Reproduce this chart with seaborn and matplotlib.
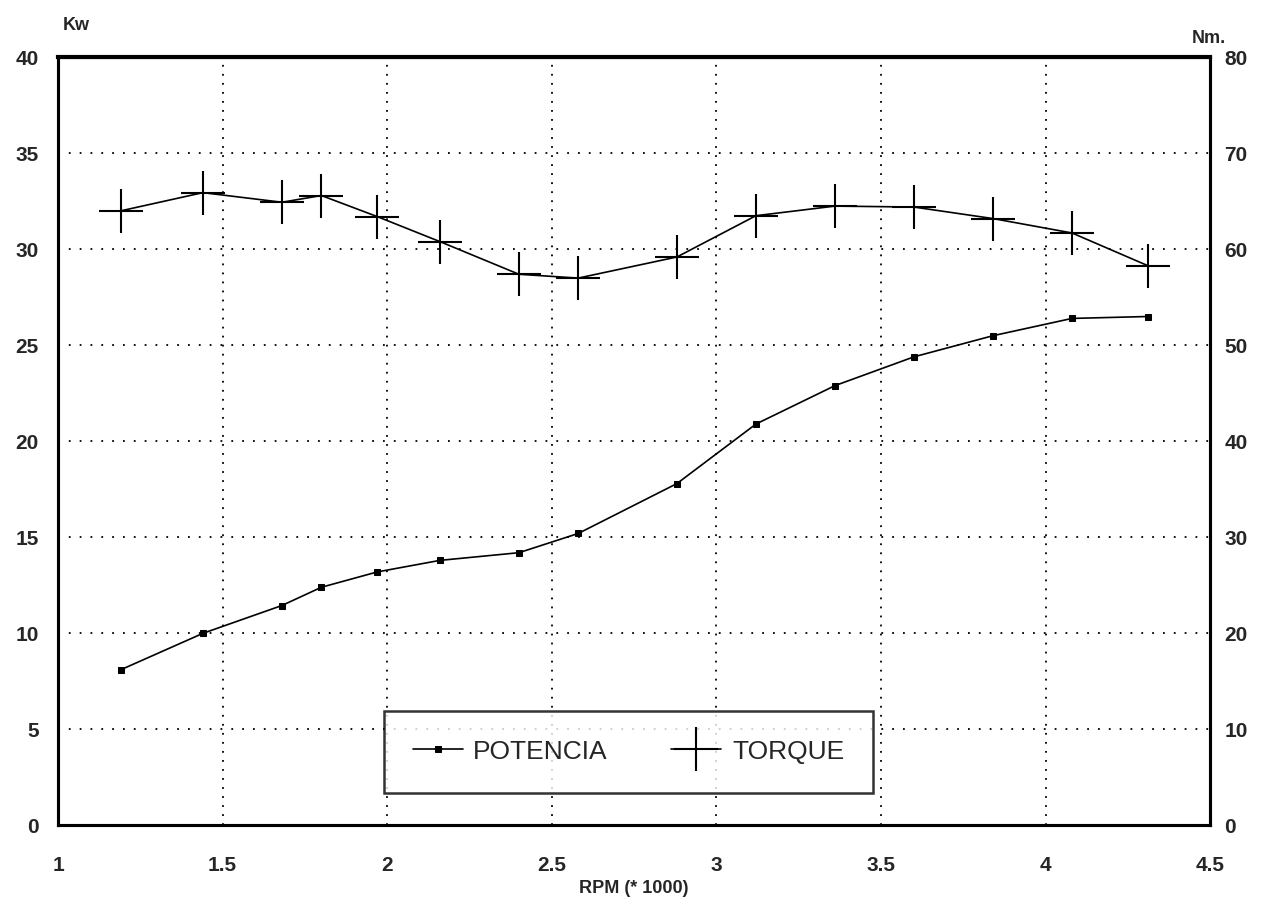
import matplotlib.pyplot as plt
import seaborn as sns
import pandas as pd

# values
rpm = [1.19, 1.44, 1.68, 1.80, 1.97, 2.16, 2.40, 2.58, 2.88, 3.12, 3.36, 3.60, 3.84, 4.08, 4.31]
potencia_kw = [8.1, 10.0, 11.45, 12.4, 13.2, 13.8, 14.2, 15.2, 17.8, 20.9, 22.9, 24.4, 25.5, 26.4, 26.5]
torque_nm = [64.0, 65.9, 64.9, 65.6, 63.4, 60.8, 57.4, 57.0, 59.2, 63.5, 64.5, 64.4, 63.2, 61.7, 58.3]

x_ticks = [1, 1.5, 2, 2.5, 3, 3.5, 4, 4.5]
x_labels = ["1", "1.5", "2", "2.5", "3", "3.5", "4", "4.5"]
kw_ticks = [0, 5, 10, 15, 20, 25, 30, 35, 40]
nm_ticks = [0, 10, 20, 30, 40, 50, 60, 70, 80]

df = pd.DataFrame({"rpm": rpm, "potencia": potencia_kw, "torque": torque_nm})

sns.set_style("white")
plt.rcParams["font.family"] = ["Liberation Sans", "DejaVu Sans"]
plt.rcParams["font.weight"] = "bold"

fig = plt.figure(figsize=(12.62, 9.09), dpi=100)
ax = fig.add_axes([0.046, 0.092, 0.913, 0.845])
ax2 = ax.twinx()

sns.lineplot(x="rpm", y="potencia", data=df, ax=ax, color="black", linewidth=1.2,
             marker="s", markersize=5, markeredgecolor="black", label="POTENCIA", legend=False)
sns.lineplot(x="rpm", y="torque", data=df, ax=ax2, color="black", linewidth=1.2,
             marker="+", markersize=31, markeredgewidth=1.5, markeredgecolor="black",
             label="TORQUE", legend=False)

ax.set_xlim(1, 4.5)
ax.set_ylim(0, 40)
ax2.set_ylim(0, 80)
ax.set_xticks(x_ticks, x_labels)
ax.set_yticks(kw_ticks)
ax2.set_yticks(nm_ticks)

# dotted grid like the old plotter output
for v in kw_ticks[1:-1]:
    ax.axhline(v, color="black", linestyle=(0, (1, 5)), linewidth=1.3, zorder=0)
for v in x_ticks[1:-1]:
    ax.axvline(v, color="black", linestyle=(0, (1, 4)), linewidth=1.3, zorder=0)

ax.tick_params(axis="x", length=0, labelsize=15, pad=22)
ax.tick_params(axis="y", length=0, labelsize=15, pad=14)
ax2.tick_params(axis="y", length=0, labelsize=15, pad=10)
for a in (ax, ax2):
    for s in a.spines.values():
        s.set_color("black")
        s.set_linewidth(2.2)
ax.spines["top"].set_linewidth(3)

ax.set_xlabel("RPM (* 1000)", fontsize=13, fontweight="bold", labelpad=4)
ax.set_ylabel("")
ax2.set_ylabel("")
fig.text(0.050, 0.972, "Kw", fontsize=13, fontweight="bold", ha="left", va="center")
fig.text(0.944, 0.958, "Nm.", fontsize=13, fontweight="bold", ha="left", va="center")

h1, l1 = ax.get_legend_handles_labels()
h2, l2 = ax2.get_legend_handles_labels()
leg = ax2.legend(h1 + h2, l1 + l2, loc="center", bbox_to_anchor=(0.495, 0.096), ncol=2,
                 fontsize=19, frameon=True, fancybox=False, edgecolor="black",
                 borderpad=1.1, columnspacing=2.4, handlelength=1.9, handletextpad=0.4,
                 borderaxespad=0)
leg.get_frame().set_linewidth(1.8)
for t in leg.get_texts():
    t.set_fontweight("normal")

plt.savefig("out.png", dpi=100)
